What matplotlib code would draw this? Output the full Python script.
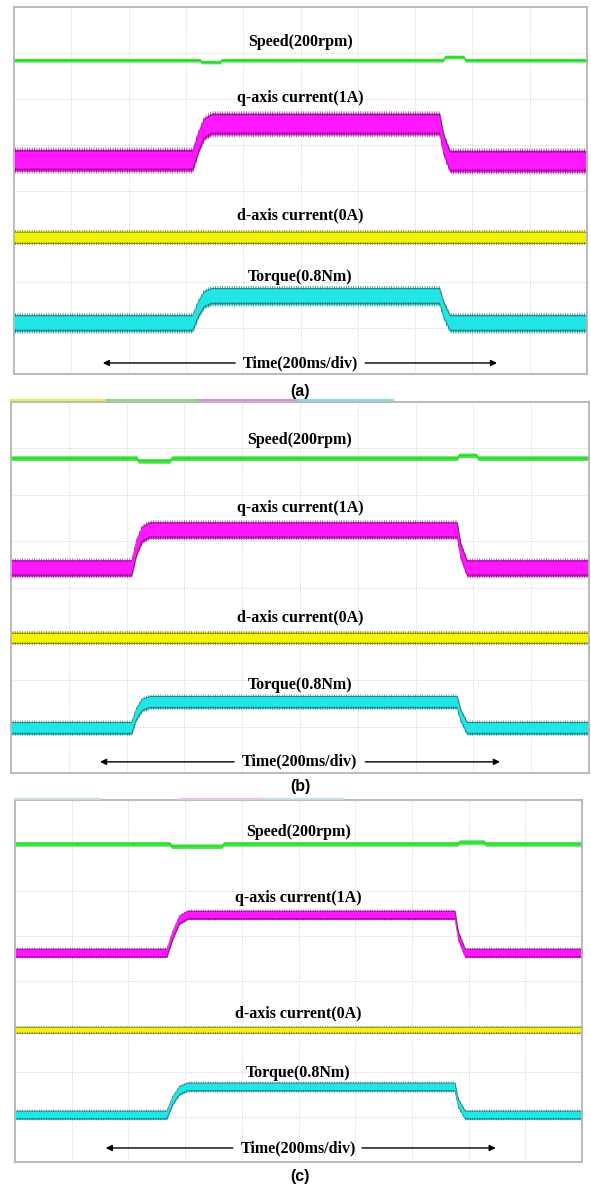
import numpy as np
import matplotlib
matplotlib.use('Agg')
import matplotlib.pyplot as plt

plt.rcParams['hatch.linewidth'] = 0.5

# time axis in divisions (200 ms/div), amplitude in divisions
# ---- panel (a)
speed_t_a = [0, 3.25, 3.27, 3.60, 3.62, 7.49, 7.52, 7.85, 7.88, 10]
speed_y_a = [6.84, 6.84, 6.80, 6.80, 6.84, 6.84, 6.91, 6.91, 6.84, 6.84]
step_t_a = [0, 3.12, 3.22, 3.32, 3.45, 7.43, 7.50, 7.61, 10]
q_y_a = [4.66, 4.66, 5.05, 5.35, 5.45, 5.45, 5.00, 4.64, 4.64]
d_y_a = [2.98, 2.98]
torque_y_a = [1.11, 1.11, 1.42, 1.63, 1.70, 1.70, 1.40, 1.11, 1.11]
width_a = [0.04, 0.24, 0.14, 0.19]   # speed, q, d, torque half band

# ---- panel (b)
speed_t_b = [0, 2.18, 2.20, 2.75, 2.78, 7.72, 7.75, 8.05, 8.08, 10]
speed_y_b = [6.79, 6.79, 6.73, 6.73, 6.79, 6.79, 6.85, 6.85, 6.79, 6.79]
step_t_b = [0, 2.09, 2.17, 2.27, 2.40, 7.72, 7.78, 7.89, 10]
q_y_b = [4.42, 4.42, 4.85, 5.15, 5.24, 5.24, 4.80, 4.42, 4.42]
d_y_b = [2.91, 2.91]
torque_y_b = [0.97, 0.97, 1.27, 1.47, 1.53, 1.53, 1.25, 0.97, 0.97]
width_b = [0.05, 0.18, 0.13, 0.14]

# ---- panel (c)
speed_t_c = [0, 2.73, 2.76, 3.65, 3.68, 7.81, 7.84, 8.27, 8.30, 10]
speed_y_c = [7.03, 7.03, 6.98, 6.98, 7.03, 7.03, 7.07, 7.07, 7.03, 7.03]
step_t_c = [0, 2.68, 2.78, 2.90, 3.05, 7.76, 7.82, 7.94, 10]
q_y_c = [4.62, 4.62, 5.00, 5.35, 5.46, 5.46, 5.00, 4.62, 4.62]
d_y_c = [2.92, 2.92]
torque_y_c = [1.04, 1.04, 1.35, 1.58, 1.66, 1.66, 1.30, 1.04, 1.04]
width_c = [0.05, 0.10, 0.07, 0.10]

labels = ['Speed(200rpm)', 'q-axis current(1A)', 'd-axis current(0A)', 'Torque(0.8Nm)']
label_y = {'a': [7.23, 6.01, 3.46, 2.11], 'b': [7.18, 5.71, 3.36, 1.90], 'c': [7.29, 5.83, 3.29, 1.97]}
time_y = {'a': 0.24, 'b': 0.24, 'c': 0.31}
arrow_x = {'a': [1.55, 8.43], 'b': [1.54, 8.46], 'c': [1.60, 8.48]}
gap_x = {'a': [3.86, 6.13], 'b': [3.86, 6.13], 'c': [3.84, 6.12]}

colors = ['#3ee83e', '#ff18ff', '#f2f20a', '#22e6e6']
dark = ['#2a7a2a', '#5a0a50', '#55551a', '#1f4f55']

fig = plt.figure(figsize=(5.91, 11.89), dpi=100)

boxes = {'a': [14/591, 1-374/1189, 573/591, 367/1189],
         'b': [11/591, 1-773/1189, 578/591, 371/1189],
         'c': [15/591, 1-1162/1189, 567/591, 362/1189]}

data = {
    'a': (speed_t_a, speed_y_a, step_t_a, q_y_a, d_y_a, torque_y_a, width_a),
    'b': (speed_t_b, speed_y_b, step_t_b, q_y_b, d_y_b, torque_y_b, width_b),
    'c': (speed_t_c, speed_y_c, step_t_c, q_y_c, d_y_c, torque_y_c, width_c),
}


def band(ax, t, y, h, c, dk, noisy=True):
    t = np.asarray(t, float)
    y = np.asarray(y, float)
    ax.fill_between(t, y - h, y + h, color=c, lw=0, zorder=3)
    if noisy:
        ax.fill_between(t, y + h * 0.75, y + h * 1.15, facecolor='none', edgecolor=dk,
                        hatch='|||||||', lw=0, zorder=4, alpha=0.8)
        ax.fill_between(t, y - h * 1.2, y - h * 0.7, facecolor='none', edgecolor=dk,
                        hatch='|||||||', lw=0, zorder=4, alpha=0.8)
        ax.plot(t, y + h * 0.85, color=dk, lw=0.6, alpha=0.6, zorder=4)
        ax.plot(t, y - h * 0.85, color=dk, lw=0.6, alpha=0.6, zorder=4)
    else:
        ax.plot(t, y, color=dk, lw=0.4, alpha=0.5, zorder=4)


for key in ['a', 'b', 'c']:
    ax = fig.add_axes(boxes[key])
    sp_t, sp_y, st_t, qy, dy, ty, w = data[key]
    ax.set_xlim(0, 10)
    ax.set_ylim(0, 8)
    for v in range(1, 10):
        ax.axvline(v, color='#cfcfcf', lw=0.7, ls=':', zorder=1)
    for v in range(1, 8):
        ax.axhline(v, color='#cfcfcf', lw=0.7, ls=':', zorder=1)
    ax.set_xticks([])
    ax.set_yticks([])
    for s in ax.spines.values():
        s.set_color('#b4b4b4')
        s.set_linewidth(1.3)
        s.set_zorder(10)

    band(ax, sp_t, sp_y, w[0], colors[0], dark[0], noisy=False)
    band(ax, st_t, qy, w[1], colors[1], dark[1])
    band(ax, [0, 10], dy, w[2], colors[2], dark[2])
    band(ax, st_t, ty, w[3], colors[3], dark[3])

    for lab, ly in zip(labels, label_y[key]):
        ax.text(5.0, ly, lab, ha='center', va='center', fontsize=11.5,
                family='Liberation Serif', weight='bold', zorder=6)

    ty_ = time_y[key]
    for ax_end, start in zip(arrow_x[key], gap_x[key]):
        ax.annotate('', xy=(ax_end, ty_), xytext=(start, ty_),
                    arrowprops=dict(arrowstyle='-|>', color='black', lw=1.0,
                                    mutation_scale=9, shrinkA=0, shrinkB=0), zorder=5)
    ax.text(5.0, ty_, 'Time(200ms/div)', ha='center', va='center', fontsize=11.5,
            family='Liberation Serif', weight='bold', zorder=7)

# channel strips on top of (b) and (c)
strip_b = [(11, 107, '#e8e830'), (107, 200, '#70d070'), (200, 297, '#e070e0'), (297, 393, '#70d8e0')]
for x0, x1, c in strip_b:
    fig.add_artist(plt.Line2D([x0/591, x1/591], [1-400/1189]*2, color=c, lw=1.6, alpha=0.8))
strip_c = [(15, 100, '#cfe0cf'), (180, 263, '#e6c6e6'), (263, 343, '#c6e0ea')]
for x0, x1, c in strip_c:
    fig.add_artist(plt.Line2D([x0/591, x1/591], [1-799/1189]*2, color=c, lw=1.6))

for lab, yy in [('(a)', 391), ('(b)', 787), ('(c)', 1177)]:
    fig.text(300/591, 1 - yy/1189, lab, ha='center', va='center', fontsize=11.5,
             family='Liberation Sans', weight='bold')

fig.savefig('out.png', dpi=100)
